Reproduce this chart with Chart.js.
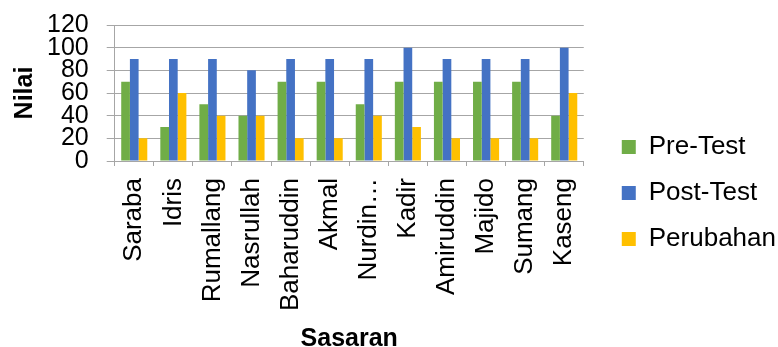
<!DOCTYPE html>
<html>
<head>
<meta charset="utf-8">
<script src="https://cdn.jsdelivr.net/npm/chart.js@4"></script>
<style>
  html, body { margin: 0; padding: 0; background: #fff; }
  #wrap { width: 778px; height: 347px; position: relative; }
</style>
</head>
<body>
<div id="wrap"><canvas id="nilaiChart"></canvas></div>
<script>
// data
const sasaran = ['Saraba', 'Idris', 'Rumallang', 'Nasrullah', 'Baharuddin', 'Akmal',
                 'Nurdin…', 'Kadir', 'Amiruddin', 'Majido', 'Sumang', 'Kaseng'];
const preTest   = [70, 30, 50, 40, 70, 70, 50, 70, 70, 70, 70, 40];
const postTest  = [90, 90, 90, 80, 90, 90, 90, 100, 90, 90, 90, 100];
const perubahan = [20, 60, 40, 40, 20, 20, 40, 30, 20, 20, 20, 60];
const yTicks = { min: 0, max: 120, step: 20 };

const fontFam = "'Liberation Sans', Arial, sans-serif";
const gridGray = '#a6a6a6';

// move the legend a little right and down, away from the plot
const legendShift = {
  id: 'legendShift',
  afterLayout(chart) {
    const lg = chart.legend;
    if (!lg) return;
    lg.left += 18; lg.right += 18;
    lg.top += 7; lg.bottom += 7;
  }
};

const ctx = document.getElementById('nilaiChart').getContext('2d');
new Chart(ctx, {
  type: 'bar',
  data: {
    labels: sasaran,
    datasets: [
      { label: 'Pre-Test',  data: preTest,   backgroundColor: '#70AD47' },
      { label: 'Post-Test', data: postTest,  backgroundColor: '#4472C4' },
      { label: 'Perubahan', data: perubahan, backgroundColor: '#FFC000' }
    ]
  },
  options: {
    responsive: true,
    maintainAspectRatio: false,
    animation: false,
    datasets: {
      bar: { categoryPercentage: 0.667, barPercentage: 1.0 }
    },
    layout: { padding: { top: 25, right: 10, left: 4, bottom: 0 } },
    scales: {
      x: {
        // the long rotated names need more than half the height
        afterFit: function (scale) { scale.height = 186; },
        grid: {
          offset: true,
          drawOnChartArea: false,
          drawTicks: true,
          tickLength: 5,
          color: gridGray
        },
        border: { color: gridGray },
        ticks: {
          color: '#000',
          font: { family: fontFam, size: 26 },
          minRotation: 90,
          maxRotation: 90,
          autoSkip: false,
          padding: 12
        },
        title: {
          display: true,
          text: 'Sasaran',
          color: '#000',
          font: { family: fontFam, size: 25, weight: 'bold' },
          padding: { top: 18, bottom: -7 }
        }
      },
      y: {
        min: yTicks.min,
        max: yTicks.max,
        afterFit: function (scale) { scale.paddingTop = 0; },
        grid: { color: gridGray, tickLength: 8 },
        border: { color: gridGray },
        ticks: {
          stepSize: yTicks.step,
          autoSkip: false,
          color: '#000',
          font: { family: fontFam, size: 25 },
          padding: 18
        },
        title: {
          display: true,
          text: 'Nilai',
          color: '#000',
          font: { family: fontFam, size: 25, weight: 'bold' },
          padding: { top: 6, bottom: -11 }
        }
      }
    },
    plugins: {
      legend: {
        position: 'right',
        labels: {
          color: '#000',
          font: { family: fontFam, size: 26 },
          boxWidth: 14,
          boxHeight: 14,
          padding: 20
        }
      },
      tooltip: { enabled: false }
    }
  },
  plugins: [legendShift]
});
</script>
</body>
</html>
